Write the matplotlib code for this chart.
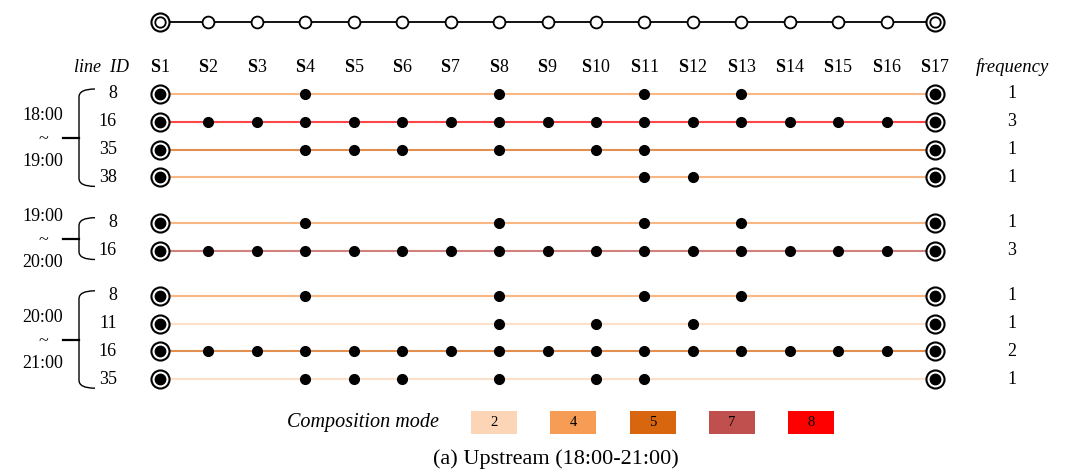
import matplotlib
matplotlib.use('Agg')
import matplotlib.pyplot as plt
from matplotlib.patches import Rectangle, PathPatch
from matplotlib.path import Path

plt.rcParams['font.family'] = 'Liberation Serif'
plt.rcParams['mathtext.fontset'] = 'custom'
plt.rcParams['mathtext.rm'] = 'Liberation Serif'
plt.rcParams['mathtext.bf'] = 'Liberation Serif:bold'

# data
stations = [f'S{i}' for i in range(1, 18)]
periods = [('18:00', '19:00'), ('19:00', '20:00'), ('20:00', '21:00')]
line_ids = [['8', '16', '35', '38'], ['8', '16'], ['8', '11', '16', '35']]
all_stops = list(range(1, 18))
stops = [
    [[1, 4, 8, 11, 13, 17], all_stops, [1, 4, 5, 6, 8, 10, 11, 17], [1, 11, 12, 17]],
    [[1, 4, 8, 11, 13, 17], all_stops],
    [[1, 4, 8, 11, 13, 17], [1, 8, 10, 12, 17], all_stops, [1, 4, 5, 6, 8, 10, 11, 17]],
]
row_modes = [[4, 8, 5, 4], [4, 7], [4, 2, 5, 2]]
frequency = [[1, 3, 1, 1], [1, 3], [1, 1, 2, 1]]
modes = [2, 4, 5, 7, 8]
mode_colors = ['#FBD5B5', '#F79C55', '#D8660F', '#C0504D', '#FF0000']
caption = '(a) Upstream (18:00-21:00)'

color_of = dict(zip(modes, mode_colors))

fig = plt.figure(figsize=(10.67, 4.70), dpi=100)
ax = fig.add_axes([0, 0, 1, 1])
step = 48.4375


def sx(px):
    # pixel column -> station units
    return (px - 160) / step + 1


ax.set_xlim(sx(0), sx(1067))
ax.set_ylim(470, 0)
ax.axis('off')

# route on top
n = len(stations)
xs = list(range(1, n + 1))
ax.plot(xs, [22] * n, color='black', lw=1.3, zorder=1)
ax.plot(xs[1:-1], [22] * (n - 2), 'o', ms=8.5, mfc='white', mec='black', mew=1.3, zorder=2)
ax.plot([1, n], [22, 22], 'o', ms=13, mfc='white', mec='black', mew=1.5, zorder=2)
ax.plot([1, n], [22, 22], 'o', ms=7.5, mfc='white', mec='black', mew=1.3, zorder=3)

# headers
for i, s in enumerate(stations, start=1):
    ax.text(i, 67, r'$\mathbf{S}$' + s[1:], ha='center', va='center', fontsize=13)
ax.text(sx(102), 67, 'line  ID', style='italic', ha='center', va='center', fontsize=13)
ax.text(sx(1012), 67, 'frequency', style='italic', ha='center', va='center', fontsize=13.5)

y = 94
for g, ids in enumerate(line_ids):
    ys = []
    for k, lid in enumerate(ids):
        ys.append(y)
        st = stops[g][k]
        ax.plot([1, n], [y, y], color=color_of[row_modes[g][k]], lw=1.5, alpha=0.72, zorder=1)
        mid = [s for s in st if s not in (1, n)]
        ax.plot(mid, [y] * len(mid), 'o', ms=7, color='black', zorder=3)
        ax.plot([1, n], [y, y], 'o', ms=13, mfc='white', mec='black', mew=1.5, zorder=3)
        ax.plot([1, n], [y, y], 'o', ms=7.5, color='black', zorder=4)
        ax.text(sx(117), y, lid, ha='right', va='center', fontsize=13)
        ax.text(sx(1012), y, str(frequency[g][k]), ha='center', va='center', fontsize=13)
        y += 27.8
    y += 17.5

    # bracket
    top, bot = ys[0] - 5, ys[-1] + 9
    verts = [(sx(95), top), (sx(79), top), (sx(79), top + 8),
             (sx(79), bot - 8), (sx(79), bot), (sx(95), bot)]
    codes = [Path.MOVETO, Path.CURVE3, Path.CURVE3, Path.LINETO, Path.CURVE3, Path.CURVE3]
    ax.add_patch(PathPatch(Path(verts, codes), fill=False, lw=1.0, edgecolor='black'))
    m = (top + bot) / 2
    ax.plot([sx(63), sx(79)], [m, m], color='black', lw=1.6)
    ax.text(sx(43), m - 22, periods[g][0], ha='center', va='center', fontsize=13)
    ax.text(sx(43), m + 2, '~', ha='center', va='center', fontsize=13)
    ax.text(sx(43), m + 24, periods[g][1], ha='center', va='center', fontsize=13)

# legend
ax.text(sx(363), 422, 'Composition mode', style='italic', ha='center', va='center', fontsize=14.5)
for k, (md, c) in enumerate(zip(modes, mode_colors)):
    left = 471 + k * 79.25
    ax.add_patch(Rectangle((sx(left), 411), 46 / step, 23, facecolor=c, edgecolor='none'))
    ax.text(sx(left + 23), 422.5, str(md), ha='center', va='center', fontsize=10.5)

ax.text(sx(556), 459, caption, ha='center', va='center', fontsize=16)

fig.savefig('out.png', dpi=100)
